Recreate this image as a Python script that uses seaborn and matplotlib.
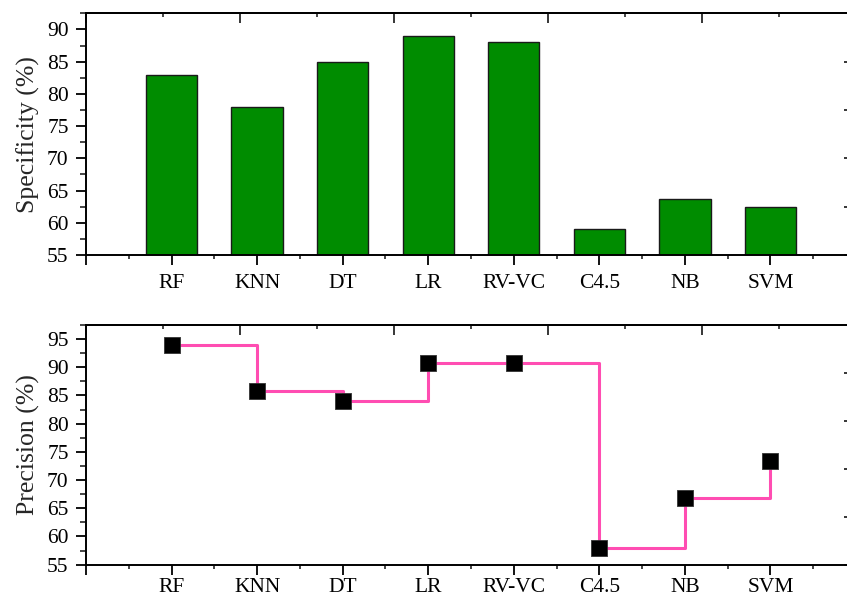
import numpy as np
import pandas as pd
import matplotlib
matplotlib.use("Agg")
import matplotlib.pyplot as plt
from matplotlib.ticker import FixedLocator, MultipleLocator, NullFormatter
import seaborn as sns

# ---- data ----
models = ["RF", "KNN", "DT", "LR", "RV-VC", "C4.5", "NB", "SVM"]
specificity = [83.0, 78.0, 85.0, 89.0, 88.0, 59.0, 63.7, 62.4]
precision = [94.0, 85.8, 84.0, 90.8, 90.8, 57.9, 66.9, 73.3]
spec_ticks = [55, 60, 65, 70, 75, 80, 85, 90]
prec_ticks = [55, 60, 65, 70, 75, 80, 85, 90, 95]

sns.set_style("ticks")
plt.rcParams["font.family"] = ["Liberation Serif", "DejaVu Serif"]
plt.rcParams["axes.linewidth"] = 1.4

fig = plt.figure(figsize=(8.47, 6.03), dpi=100)
ax1 = fig.add_axes([0.10153, 0.57712, 0.9091, 0.40083])
ax2 = fig.add_axes([0.10153, 0.06354, 0.9091, 0.39749])

xpos = np.arange(len(models))
df = pd.DataFrame({"x": xpos, "model": models, "spec": specificity, "prec": precision})

# top: bars
sns.barplot(data=df, x="x", y="spec", ax=ax1, color="#008C00", saturation=1,
            width=0.6, edgecolor="#1a1a1a", linewidth=1.0, native_scale=True)

# bottom: step line + square markers
sns.lineplot(data=df, x="x", y="prec", ax=ax2, color="#FF4DB2", linewidth=2.2,
             drawstyle="steps-post", zorder=2)
sns.scatterplot(data=df, x="x", y="prec", ax=ax2, color="black", marker="s",
                s=125, edgecolor="#333333", linewidth=0.6, zorder=3)

ylims = [(55, 92.5), (55, 97.5)]
yticks = [spec_ticks, prec_ticks]
ylabels = ["Specificity (%)", "Precision (%)"]
xpads = [6, 2]

for ax, yl, yt, lab, xp in zip([ax1, ax2], ylims, yticks, ylabels, xpads):
    ax.set_xlim(-1, 8)
    ax.set_ylim(*yl)
    ax.xaxis.set_major_locator(FixedLocator(list(range(-1, 9))))
    ax.set_xticklabels([""] + models + [""])
    ax.xaxis.set_minor_locator(FixedLocator([i + 0.5 for i in range(-1, 8)]))
    ax.set_yticks(yt)
    ax.yaxis.set_minor_locator(MultipleLocator(2.5))
    ax.tick_params(axis="both", which="major", direction="out", length=7.5,
                   width=1.3, labelsize=15.5, pad=5, colors="black")
    ax.tick_params(axis="x", which="major", pad=xp)
    ax.tick_params(axis="both", which="minor", direction="out", length=4,
                   width=1.2)
    ax.tick_params(axis="x", which="minor", length=3)
    ax.set_xlabel("")
    ax.set_ylabel(lab, fontsize=18.5, labelpad=5)
    for s in ["top", "left", "bottom", "right"]:
        ax.spines[s].set_visible(True)
        ax.spines[s].set_linewidth(1.4)
        ax.spines[s].set_color("black")

    # top axis (independent scale 0..10)
    sx = ax.secondary_xaxis("top", functions=(lambda x: (x + 1) * 10 / 9,
                                              lambda t: t * 9 / 10 - 1))
    sx.xaxis.set_major_locator(MultipleLocator(2))
    sx.xaxis.set_minor_locator(MultipleLocator(1))
    sx.xaxis.set_major_formatter(NullFormatter())
    sx.tick_params(which="major", direction="in", length=7, width=1.3)
    sx.tick_params(which="minor", direction="in", length=3, width=1.2)
    sx.spines["top"].set_linewidth(1.4)

    # right axis (independent scale 0..1)
    lo, hi = yl
    sy = ax.secondary_yaxis("right", functions=(lambda y, lo=lo, hi=hi: (y - lo) / (hi - lo),
                                                lambda t, lo=lo, hi=hi: lo + t * (hi - lo)))
    sy.yaxis.set_major_locator(MultipleLocator(0.2))
    sy.yaxis.set_minor_locator(MultipleLocator(0.1))
    sy.yaxis.set_major_formatter(NullFormatter())
    sy.tick_params(which="major", direction="in", length=9, width=1.3)
    sy.tick_params(which="minor", direction="in", length=3, width=1.2)

fig.savefig("out.png", dpi=100)
